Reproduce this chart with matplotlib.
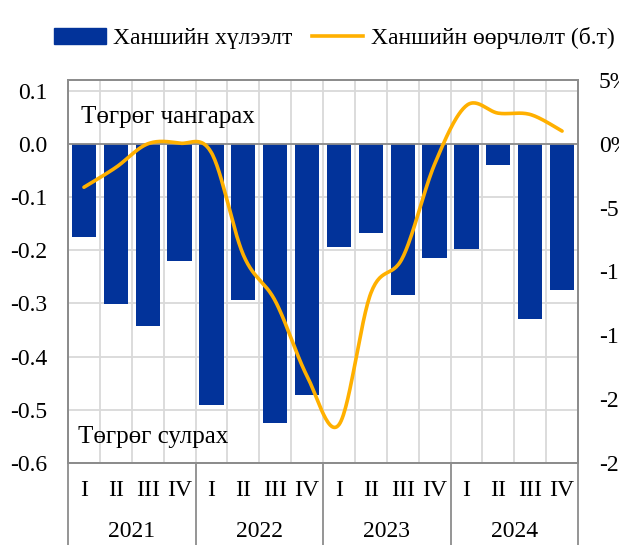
import numpy as np
import matplotlib
matplotlib.use('Agg')
import matplotlib.pyplot as plt
from matplotlib.patches import Patch
from matplotlib.lines import Line2D

plt.rcParams['font.family'] = ['Liberation Serif', 'DejaVu Serif']

years = ['2021', '2022', '2023', '2024']
quarters = ['I', 'II', 'III', 'IV']
# Ханшийн хүлээлт (left axis)
expectation = [-0.175, -0.302, -0.342, -0.220, -0.491, -0.293, -0.525, -0.473,
               -0.194, -0.168, -0.284, -0.215, -0.197, -0.040, -0.330, -0.275]
# Ханшийн өөрчлөлт, % (right axis)
change = [-3.4, -1.85, 0.0, 0.05, -0.7, -8.7, -12.3, -18.2,
          -22.0, -11.7, -8.9, -1.6, 3.0, 2.4, 2.3, 1.0]
left_ticks = [-0.6, -0.5, -0.4, -0.3, -0.2, -0.1, 0.0, 0.1]
right_ticks = [-25, -20, -15, -10, -5, 0, 5]

bar_color = '#02339A'
line_color = '#FFB000'
grid_color = '#D9D9D9'
spine_color = '#8C8C8C'


def smooth(x, y, n=30):
    # catmull-rom through the points, like the excel "smoothed line"
    p = np.column_stack([x, y]).astype(float)
    p = np.vstack([p[0], p, p[-1]])
    t = np.linspace(0, 1, n)[:, None]
    h00 = 2 * t**3 - 3 * t**2 + 1
    h10 = t**3 - 2 * t**2 + t
    h01 = -2 * t**3 + 3 * t**2
    h11 = t**3 - t**2
    out = []
    for i in range(1, len(p) - 2):
        m1 = (p[i + 1] - p[i - 1]) / 2
        m2 = (p[i + 2] - p[i]) / 2
        seg = h00 * p[i] + h10 * m1 + h01 * p[i + 1] + h11 * m2
        out.append(seg if i == 1 else seg[1:])
    out = np.vstack(out)
    return out[:, 0], out[:, 1]


fig = plt.figure(figsize=(6.19, 5.45), dpi=100)
ax = fig.add_axes([0.1099, 0.1505, 0.8239, 0.7027])
x = np.arange(len(expectation))

ax.bar(x, expectation, width=0.76, color=bar_color, zorder=2)
ax.axhline(0, color=spine_color, lw=1.3, zorder=3)
ax.set_xlim(-0.5, len(x) - 0.5)
ax.set_ylim(-0.6, 0.12)
ax.set_yticks(left_ticks)
ax.set_yticklabels([f'{v:.1f}' for v in left_ticks])
ax.set_xticks(np.arange(-0.5, len(x), 1))
ax.set_xticklabels([])
ax.set_axisbelow(True)
ax.grid(color=grid_color, lw=1.3)
ax.tick_params(length=0, labelsize=17, pad=15)

ax2 = ax.twinx()
sx, sy = smooth(x, change)
ax2.plot(sx, sy, color=line_color, lw=2.6, solid_capstyle='round')
ax2.set_ylim(-25, 5)
ax2.set_yticks(right_ticks)
ax2.set_yticklabels([f'{v}%' for v in right_ticks])
ax2.tick_params(length=0, labelsize=17, pad=15)

for a in (ax, ax2):
    for s in a.spines.values():
        s.set_color(spine_color)
        s.set_linewidth(1.3)

# quarter / year labels under the axis
tr = ax.get_xaxis_transform()
for i in x:
    ax.text(i, -0.072, quarters[i % 4], transform=tr, ha='center', va='center', fontsize=17)
for k, yr in enumerate(years):
    ax.text(4 * k + 1.5, -0.178, yr, transform=tr, ha='center', va='center', fontsize=17)
for b in np.arange(-0.5, len(x), 4):
    ax.plot([b, b], [0, -0.3], transform=tr, color=spine_color, lw=1.3, clip_on=False)

ax.text(0.025, 0.903, 'Төгрөг чангарах', transform=ax.transAxes, ha='left', va='center', fontsize=18)
ax.text(0.02, 0.068, 'Төгрөг сулрах', transform=ax.transAxes, ha='left', va='center', fontsize=18)

handles = [Patch(color=bar_color), Line2D([], [], color=line_color, lw=2.6)]
labels = ['Ханшийн хүлээлт', 'Ханшийн өөрчлөлт (б.т)']
fig.legend(handles, labels, loc='center', bbox_to_anchor=(0.54, 0.93), ncol=2,
           frameon=False, fontsize=17, handlelength=2.2, handletextpad=0.3,
           columnspacing=0.8)

fig.savefig('out.png', dpi=100)
